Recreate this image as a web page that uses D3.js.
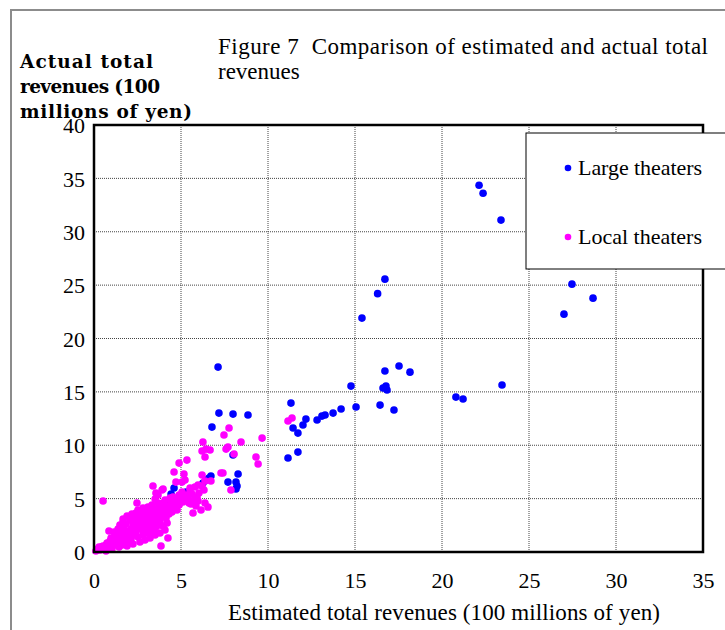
<!DOCTYPE html>
<html><head><meta charset="utf-8">
<script src="https://cdn.jsdelivr.net/npm/d3@7"></script>
<style>body{margin:0;background:#fff}svg{display:block}</style>
</head><body>
<svg id="c" width="725" height="630"></svg>
<script>
const xTicks = [0,5,10,15,20,25,30,35];
const yTicks = [0,5,10,15,20,25,30,35,40];
const seriesNames = ["Large theaters","Local theaters"];
const seriesColors = ["#0000ff","#ff00ff"];

const largeX = [22.13,22.36,23.39,16.72,15.40,16.30,27.47,28.68,27.01,17.53,16.72,18.16,14.77,16.61,16.84,16.78,16.44,17.24,23.45,20.80,21.21,15.06,14.20,13.74,13.28,13.10,12.82,12.18,12.01,11.44,11.72,11.32,11.72,11.15,7.13,7.18,7.99,8.85,6.78,7.99,6.72,8.28,7.70,8.16,8.22,8.16,6.44,6.61,6.26,4.60,4.43,4.60,4.14,5.29,1.84];
const largeY = [34.36,33.61,31.09,25.56,21.91,24.20,25.09,23.78,22.28,17.42,16.95,16.85,15.54,15.36,15.17,15.54,13.76,13.30,15.64,14.51,14.33,13.58,13.39,13.01,12.83,12.73,12.36,12.45,11.89,11.61,11.14,13.95,9.36,8.80,17.32,13.01,12.92,12.83,11.70,9.08,7.12,7.30,6.55,6.55,6.18,5.90,6.74,6.93,6.46,5.99,5.43,4.87,4.59,5.62,1.03];

const localX = [11.38,11.15,7.76,7.47,6.26,9.66,8.45,6.21,6.44,6.67,6.38,7.59,7.70,8.05,9.31,9.43,4.89,5.34,4.60,5.17,6.21,7.30,7.41,7.87,6.72,6.38,4.71,5.06,5.23,3.39,5.06,4.89,6.21,6.32,5.92,5.98,6.38,6.55,5.57,5.69,5.40,5.80,0.52,2.47,3.10,3.51,3.68,3.91,3.56,0.86,1.67,2.13,4.25,3.85,0.40,0.34,3.97,5.98,5.52,
0.11,0.23,0.29,0.40,0.52,0.57,0.69,0.75,0.86,0.92,1.03,1.09,1.15,1.26,1.32,1.38,1.49,1.55,1.61,1.72,1.78,1.84,1.95,2.01,2.07,2.13,2.18,2.30,2.36,2.41,2.47,2.53,2.59,2.64,2.70,2.76,2.82,2.87,2.93,2.99,3.05,3.10,3.16,3.22,3.28,3.33,3.39,3.45,3.51,3.56,3.62,3.68,3.74,3.79,3.85,3.91,3.97,4.02,4.08,4.14,4.20,4.25,4.31,4.37,4.43,4.48,4.54,4.66,4.71,4.77,4.83,4.89,5.00,5.11,5.23,5.34,5.46,5.52,5.63,5.75,5.86,6.03,6.15,4.08,3.79,3.51,3.22,2.93,2.64,2.24,1.90,1.44,1.03,0.69,2.70,2.41,2.07,1.84,1.38,1.15,
1.49,1.67,1.90,2.18,2.53,2.82,1.44,1.72,2.24,2.47,2.76,2.99,3.22,3.33,3.10,2.82,2.53,2.13,1.78,1.49,3.56,3.79,3.97,4.20,3.45,3.68,2.41,2.07,1.21,0.98,0.80,1.26,1.61,1.95,2.30,2.99,3.28,4.37,4.08,3.68,3.33];
const localY = [12.55,12.27,11.61,10.96,10.30,10.67,10.30,9.46,9.64,9.55,8.90,9.64,9.83,9.18,8.90,8.24,8.33,8.61,7.49,7.30,7.21,7.40,7.40,5.81,6.65,6.65,6.55,6.55,6.74,6.18,5.62,5.34,6.18,5.81,5.15,4.78,4.59,4.21,4.49,3.65,5.06,6.09,4.78,4.59,4.21,4.96,5.34,5.81,5.52,1.97,2.81,3.00,1.31,0.56,0.47,0.19,5.90,6.27,5.99,
0.09,0.28,0.47,0.37,0.56,0.28,0.66,0.84,0.75,1.03,0.94,1.22,0.84,1.12,1.40,1.03,1.31,1.59,1.22,1.50,1.78,1.40,1.69,1.97,1.59,2.15,1.78,2.06,2.34,1.87,2.53,2.15,2.81,2.34,3.00,2.62,1.97,3.18,2.81,2.43,3.46,3.00,2.62,3.65,3.18,2.25,3.84,3.37,2.90,4.03,3.56,3.09,2.53,3.84,4.21,3.37,4.59,3.65,4.12,3.18,3.84,4.31,3.56,4.03,4.59,3.75,5.15,4.21,4.68,3.93,4.96,4.40,5.15,4.68,4.96,5.34,4.59,5.81,5.43,4.87,4.31,5.52,3.93,2.06,1.78,1.59,1.31,1.12,0.94,0.75,0.56,0.47,0.28,0.09,3.75,3.37,3.00,2.62,2.15,1.87,
2.53,3.09,3.37,3.56,3.93,4.12,1.87,2.15,2.53,2.90,3.28,3.65,4.03,2.81,2.06,1.59,1.40,1.22,1.03,0.84,2.34,2.90,2.43,2.72,1.97,3.46,3.65,3.28,1.50,1.31,0.47,0.66,0.66,1.03,1.59,1.78,1.78,5.06,4.87,4.59,4.40];

const svg = d3.select("#c");
const L = 94, R = 703, T = 125, B = 552;
const x = d3.scaleLinear().domain([0,35]).range([L,R]);
const y = d3.scaleLinear().domain([0,40]).range([B,T]);
const serif = "'Liberation Serif','Times New Roman',serif";

// outer frame
svg.append("rect").attr("x",11).attr("y",10).attr("width",800).attr("height",700)
  .attr("fill","none").attr("stroke","#8c8c8c").attr("stroke-width",2);

// grid
const g = svg.append("g");
g.selectAll("line.vx").data(xTicks.slice(1,-1)).join("line")
  .attr("x1",d=>x(d)).attr("x2",d=>x(d)).attr("y1",T).attr("y2",B)
  .attr("stroke","#444").attr("stroke-width",1).attr("stroke-dasharray","1,1");
g.selectAll("line.hy").data(yTicks.slice(1,-1)).join("line")
  .attr("y1",d=>y(d)).attr("y2",d=>y(d)).attr("x1",L).attr("x2",R)
  .attr("stroke","#444").attr("stroke-width",1).attr("stroke-dasharray","1,1");

// points
const large = largeX.map((v,i)=>[v,largeY[i]]);
const local = localX.map((v,i)=>[v,localY[i]]);
svg.append("g").selectAll("circle").data(large).join("circle")
  .attr("cx",d=>x(d[0])).attr("cy",d=>y(d[1])).attr("r",3.8).attr("fill",seriesColors[0]);
svg.append("g").selectAll("circle").data(local).join("circle")
  .attr("cx",d=>x(d[0])).attr("cy",d=>y(d[1])).attr("r",3.8).attr("fill",seriesColors[1]);

// border
svg.append("rect").attr("x",L).attr("y",T).attr("width",R-L).attr("height",B-T)
  .attr("fill","none").attr("stroke","#000").attr("stroke-width",2.5);

// axes labels
const xa = svg.append("g").attr("transform",`translate(0,${B+36})`)
  .call(d3.axisBottom(x).tickValues(xTicks).tickSize(0).tickPadding(0));
xa.select(".domain").remove();
xa.attr("font-family",null).attr("font-size",null);
xa.selectAll("text").style("font-family",serif).style("font-size","22px").attr("fill","#000").attr("dy",0);
const ya = svg.append("g").attr("transform",`translate(${L-9},0)`)
  .call(d3.axisLeft(y).tickValues(yTicks).tickSize(0).tickPadding(0));
ya.select(".domain").remove();
ya.attr("font-family",null).attr("font-size",null);
ya.selectAll("text").style("font-family",serif).style("font-size","22px").attr("fill","#000").attr("dy","0.35em");

// titles
const title = svg.append("text").style("font-family",serif).style("font-size","23px").attr("fill","#000");
title.append("tspan").attr("x",218).attr("y",54).attr("textLength",490).attr("lengthAdjust","spacing")
  .text("Figure 7\u00a0\u00a0Comparison of estimated and actual total");
title.append("tspan").attr("x",218).attr("y",79).text("revenues");

const ytLines = ["Actual total","revenues (100","millions of yen)"];
const ytWidths = [133,140,172];
const yt = svg.append("g").style("font-family","'DejaVu Serif',serif").style("font-weight","bold").style("font-size","18.5px").attr("fill","#000");
ytLines.forEach((s,i)=>
  yt.append("text").attr("x",20).attr("y",68+i*25).attr("textLength",ytWidths[i]).attr("lengthAdjust","spacing").text(s));

svg.append("text").attr("x",228).attr("y",620)
  .style("font-family",serif).style("font-size","23px").attr("fill","#000")
  .attr("textLength",432).attr("lengthAdjust","spacing")
  .text("Estimated total revenues (100 millions of yen)");

// legend
const lg = svg.append("g");
lg.append("rect").attr("x",526).attr("y",133).attr("width",260).attr("height",136)
  .attr("fill","#fff").attr("stroke","#000").attr("stroke-width",1);
seriesNames.forEach((n,i)=>{
  const cy = 168 + i*69;
  lg.append("circle").attr("cx",568).attr("cy",cy).attr("r",3.3).attr("fill",seriesColors[i]);
  lg.append("text").attr("x",578).attr("y",cy+7).style("font-family",serif).style("font-size","22px")
    .attr("fill","#000").attr("textLength",124).attr("lengthAdjust","spacing").text(n);
});
</script>
</body></html>
